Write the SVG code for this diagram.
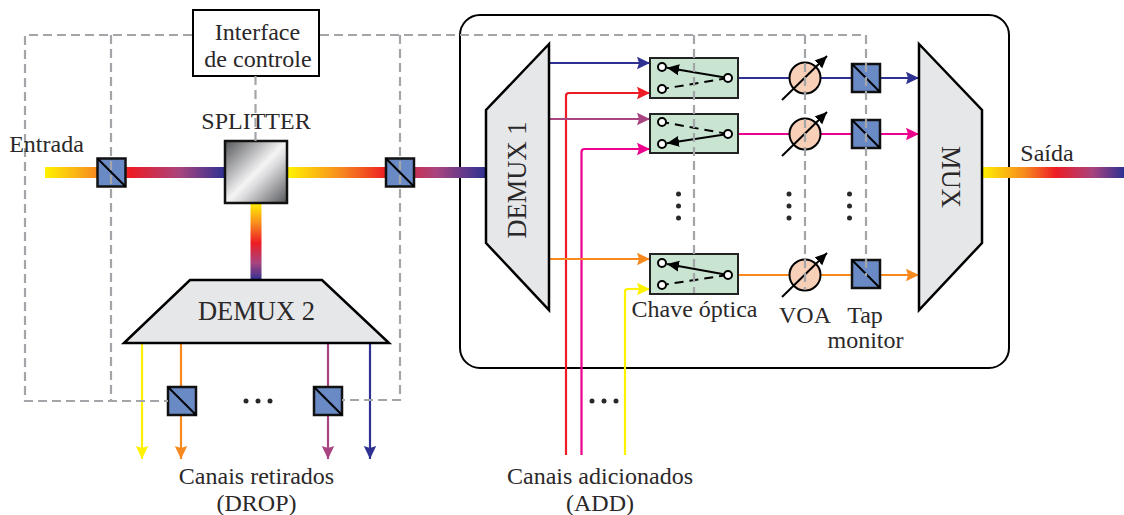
<svg xmlns="http://www.w3.org/2000/svg" width="1124" height="515" viewBox="0 0 1124 515">
<style>
text{font-family:"Liberation Serif","Times New Roman",serif;font-size:24px;fill:#2b2829;text-anchor:middle}
.big{font-size:26.500px}
.blk{fill:#e6e7e8;stroke:#000;stroke-width:2.5;stroke-linejoin:miter}
.tap rect{fill:#6a8ac6;stroke:#111;stroke-width:2.5}
.tap line{stroke:#000;stroke-width:2}
.sw rect{fill:#c9e4d0;stroke:#222;stroke-width:2}
.sw circle{fill:#fff;stroke:#000;stroke-width:2}
.sw line{stroke:#000;stroke-width:2}
.sw .d{stroke-dasharray:9 6}
.voa circle{fill:#f8d0b8;stroke:#000;stroke-width:2}
.voa line{stroke:#000;stroke-width:2}
.dot{fill:#2b2829}
.c{fill:none;stroke-width:2.2}
.ctl{fill:none;stroke:#a3a5a8;stroke-width:2.2;stroke-dasharray:9 5}
</style>
<defs>
<linearGradient id="gL" gradientUnits="userSpaceOnUse" x1="45" y1="0" x2="225" y2="0"><stop offset="0" stop-color="#fff200"/><stop offset=".29" stop-color="#f7891f"/><stop offset=".47" stop-color="#ed1c24"/><stop offset=".75" stop-color="#a8447f"/><stop offset="1" stop-color="#2e3192"/></linearGradient>
<linearGradient id="gR" gradientUnits="userSpaceOnUse" x1="288" y1="0" x2="486" y2="0"><stop offset="0" stop-color="#fff200"/><stop offset=".27" stop-color="#f7891f"/><stop offset=".5" stop-color="#ed1c24"/><stop offset=".75" stop-color="#a8447f"/><stop offset="1" stop-color="#2e3192"/></linearGradient>
<linearGradient id="gD" gradientUnits="userSpaceOnUse" x1="0" y1="203" x2="0" y2="280"><stop offset="0" stop-color="#fff200"/><stop offset=".27" stop-color="#f7891f"/><stop offset=".52" stop-color="#ed1c24"/><stop offset=".78" stop-color="#a8447f"/><stop offset="1" stop-color="#2e3192"/></linearGradient>
<linearGradient id="gO" gradientUnits="userSpaceOnUse" x1="982" y1="0" x2="1124" y2="0"><stop offset="0" stop-color="#fff200"/><stop offset=".3" stop-color="#f7891f"/><stop offset=".52" stop-color="#ed1c24"/><stop offset=".78" stop-color="#a8447f"/><stop offset="1" stop-color="#2e3192"/></linearGradient>
<linearGradient id="gS" x1="0" y1="0" x2="1" y2="1"><stop offset="0" stop-color="#55565a"/><stop offset=".5" stop-color="#f4f4f5"/><stop offset=".6" stop-color="#dcdcde"/><stop offset="1" stop-color="#55565a"/></linearGradient>
<marker id="aB" markerUnits="userSpaceOnUse" markerWidth="14" markerHeight="14" refX="13" refY="7" orient="auto"><path d="M0 .8L13 7 0 13.200 2 7z" fill="#2e3192"/></marker>
<marker id="aR" markerUnits="userSpaceOnUse" markerWidth="14" markerHeight="14" refX="13" refY="7" orient="auto"><path d="M0 .8L13 7 0 13.200 2 7z" fill="#ed1c24"/></marker>
<marker id="aP" markerUnits="userSpaceOnUse" markerWidth="14" markerHeight="14" refX="13" refY="7" orient="auto"><path d="M0 .8L13 7 0 13.200 2 7z" fill="#a8447f"/></marker>
<marker id="aM" markerUnits="userSpaceOnUse" markerWidth="14" markerHeight="14" refX="13" refY="7" orient="auto"><path d="M0 .8L13 7 0 13.200 2 7z" fill="#ec008c"/></marker>
<marker id="aO" markerUnits="userSpaceOnUse" markerWidth="14" markerHeight="14" refX="13" refY="7" orient="auto"><path d="M0 .8L13 7 0 13.200 2 7z" fill="#f7891f"/></marker>
<marker id="aY" markerUnits="userSpaceOnUse" markerWidth="14" markerHeight="14" refX="13" refY="7" orient="auto"><path d="M0 .8L13 7 0 13.200 2 7z" fill="#fff200"/></marker>
<marker id="aK" markerUnits="userSpaceOnUse" markerWidth="13" markerHeight="12" refX="12" refY="6" orient="auto"><path d="M0 .5L12 6 0 11.500z" fill="#000"/></marker>
</defs>

<rect id="enclosure" x="460" y="15" width="549" height="353" rx="20" fill="#fff" stroke="#000" stroke-width="2"/>

<g id="connectors">
<rect x="45" y="167" width="180" height="11" fill="url(#gL)"/>
<rect x="288" y="167" width="198" height="11" fill="url(#gR)"/>
<rect x="250.500" y="203" width="11" height="77" fill="url(#gD)"/>
<rect x="982" y="167" width="142" height="11" fill="url(#gO)"/>
<path class="c" stroke="#2e3192" marker-end="url(#aB)" d="M549 63H650"/>
<path class="c" stroke="#ed1c24" marker-end="url(#aR)" d="M566 455V96Q566 93 569 93H650"/>
<path class="c" stroke="#a8447f" marker-end="url(#aP)" d="M549 119H650"/>
<path class="c" stroke="#ec008c" marker-end="url(#aM)" d="M581.500 455V152Q581.500 149 584.500 149H650"/>
<path class="c" stroke="#f7891f" marker-end="url(#aO)" d="M549 259H650"/>
<path class="c" stroke="#fff200" marker-end="url(#aY)" d="M625 455V292Q625 289 628 289H650"/>
<path class="c" stroke="#2e3192" marker-end="url(#aB)" d="M738 78H919"/>
<path class="c" stroke="#ec008c" marker-end="url(#aM)" d="M738 134H919"/>
<path class="c" stroke="#f7891f" marker-end="url(#aO)" d="M738 275H919"/>
<path class="c" stroke="#fff200" marker-end="url(#aY)" d="M142 343V459"/>
<path class="c" stroke="#f7891f" marker-end="url(#aO)" d="M181 343V459"/>
<path class="c" stroke="#a8447f" marker-end="url(#aP)" d="M328 343V459"/>
<path class="c" stroke="#2e3192" marker-end="url(#aB)" d="M370 343V459"/>
</g>

<g id="demux1"><polygon class="blk" points="549,44 549,310 486,243 486,110"/><text class="big" transform="translate(526 180) rotate(-90)">DEMUX 1</text></g>
<g id="mux"><polygon class="blk" points="919,44 982,110 982,243 919,310"/><text class="big" transform="translate(942 177) rotate(90)">MUX</text></g>
<g id="demux2"><polygon class="blk" points="124,343 190,280 322,280 389,343"/><text class="big" x="256.500" y="320">DEMUX 2</text></g>
<g id="splitter"><rect x="225" y="141" width="62" height="62" fill="url(#gS)" stroke="#111" stroke-width="2.500"/><text x="256" y="129">SPLITTER</text></g>
<g id="interface"><rect x="193" y="10" width="126" height="66" fill="#fff" stroke="#000" stroke-width="2"/><text x="257.500" y="40">Interface</text><text x="258" y="67">de controle</text></g>

<g id="tap-in" class="tap"><rect x="97.500" y="158.500" width="28" height="28"/><line x1="97.500" y1="158.500" x2="125.500" y2="186.500"/></g>
<g id="tap-out" class="tap"><rect x="386" y="158.500" width="28" height="28"/><line x1="386" y1="158.500" x2="414" y2="186.500"/></g>
<g id="tap-drop1" class="tap"><rect x="168" y="387" width="28" height="28"/><line x1="168" y1="387" x2="196" y2="415"/></g>
<g id="tap-drop2" class="tap"><rect x="314" y="387" width="28" height="28"/><line x1="314" y1="387" x2="342" y2="415"/></g>
<g id="tap-1" class="tap"><rect x="852" y="64" width="28" height="28"/><line x1="852" y1="64" x2="880" y2="92"/></g>
<g id="tap-2" class="tap"><rect x="852" y="120" width="28" height="28"/><line x1="852" y1="120" x2="880" y2="148"/></g>
<g id="tap-3" class="tap"><rect x="852" y="260" width="28" height="28"/><line x1="852" y1="260" x2="880" y2="288"/></g>

<g id="switch-1" class="sw"><rect x="650" y="58" width="88" height="40"/><line x1="728" y1="78" x2="667" y2="67.800" marker-end="url(#aK)"/><line class="d" x1="728" y1="78" x2="662" y2="89"/><circle cx="662" cy="67" r="4"/><circle cx="662" cy="89" r="4"/><circle cx="728" cy="78" r="4"/></g>
<g id="switch-2" class="sw"><rect x="650" y="114" width="88" height="39"/><line x1="728" y1="134" x2="667" y2="143.200" marker-end="url(#aK)"/><line class="d" x1="728" y1="134" x2="662" y2="122"/><circle cx="662" cy="122" r="4"/><circle cx="662" cy="144" r="4"/><circle cx="728" cy="134" r="4"/></g>
<g id="switch-3" class="sw"><rect x="650" y="254" width="88" height="40"/><line x1="728" y1="275" x2="667" y2="264" marker-end="url(#aK)"/><line class="d" x1="728" y1="275" x2="662" y2="285"/><circle cx="662" cy="263" r="4"/><circle cx="662" cy="285" r="4"/><circle cx="728" cy="275" r="4"/></g>

<g id="voa-1" class="voa"><circle cx="805" cy="78" r="15.500"/><line x1="782" y1="100" x2="827" y2="56" marker-end="url(#aK)"/></g>
<g id="voa-2" class="voa"><circle cx="805" cy="134" r="15.500"/><line x1="782" y1="156" x2="827" y2="112" marker-end="url(#aK)"/></g>
<g id="voa-3" class="voa"><circle cx="805" cy="275" r="15.500"/><line x1="782" y1="297" x2="827" y2="253" marker-end="url(#aK)"/></g>

<g id="control">
<path class="ctl" d="M192 35H25V401H168"/>
<path class="ctl" d="M111 35V401"/>
<path class="ctl" d="M320 35H866V276"/>
<path class="ctl" d="M400 35V400H342"/>
<path class="ctl" d="M255.500 76V141"/>
<path class="ctl" d="M694 35V293"/>
<path class="ctl" d="M805 35V290"/>
</g>

<g id="ellipses">
<circle class="dot" cx="246" cy="401" r="2.500"/><circle class="dot" cx="258" cy="401" r="2.500"/><circle class="dot" cx="270" cy="401" r="2.500"/>
<circle class="dot" cx="592" cy="401" r="2.500"/><circle class="dot" cx="604" cy="401" r="2.500"/><circle class="dot" cx="616" cy="401" r="2.500"/>
<circle class="dot" cx="678.500" cy="194" r="2.500"/><circle class="dot" cx="678.500" cy="206" r="2.500"/><circle class="dot" cx="678.500" cy="218" r="2.500"/>
<circle class="dot" cx="789" cy="194" r="2.500"/><circle class="dot" cx="789" cy="206" r="2.500"/><circle class="dot" cx="789" cy="218" r="2.500"/>
<circle class="dot" cx="849.500" cy="194" r="2.500"/><circle class="dot" cx="849.500" cy="206" r="2.500"/><circle class="dot" cx="849.500" cy="218" r="2.500"/>
</g>

<g id="labels">
<text x="46.500" y="152">Entrada</text>
<text x="1047" y="161">Saída</text>
<text x="694.500" y="317">Chave óptica</text>
<text x="805" y="323">VOA</text>
<text x="865" y="323">Tap</text>
<text x="865.500" y="348">monitor</text>
<text x="256.500" y="484">Canais retirados</text>
<text x="256.500" y="511">(DROP)</text>
<text x="600" y="484">Canais adicionados</text>
<text x="600" y="511">(ADD)</text>
</g>
</svg>
